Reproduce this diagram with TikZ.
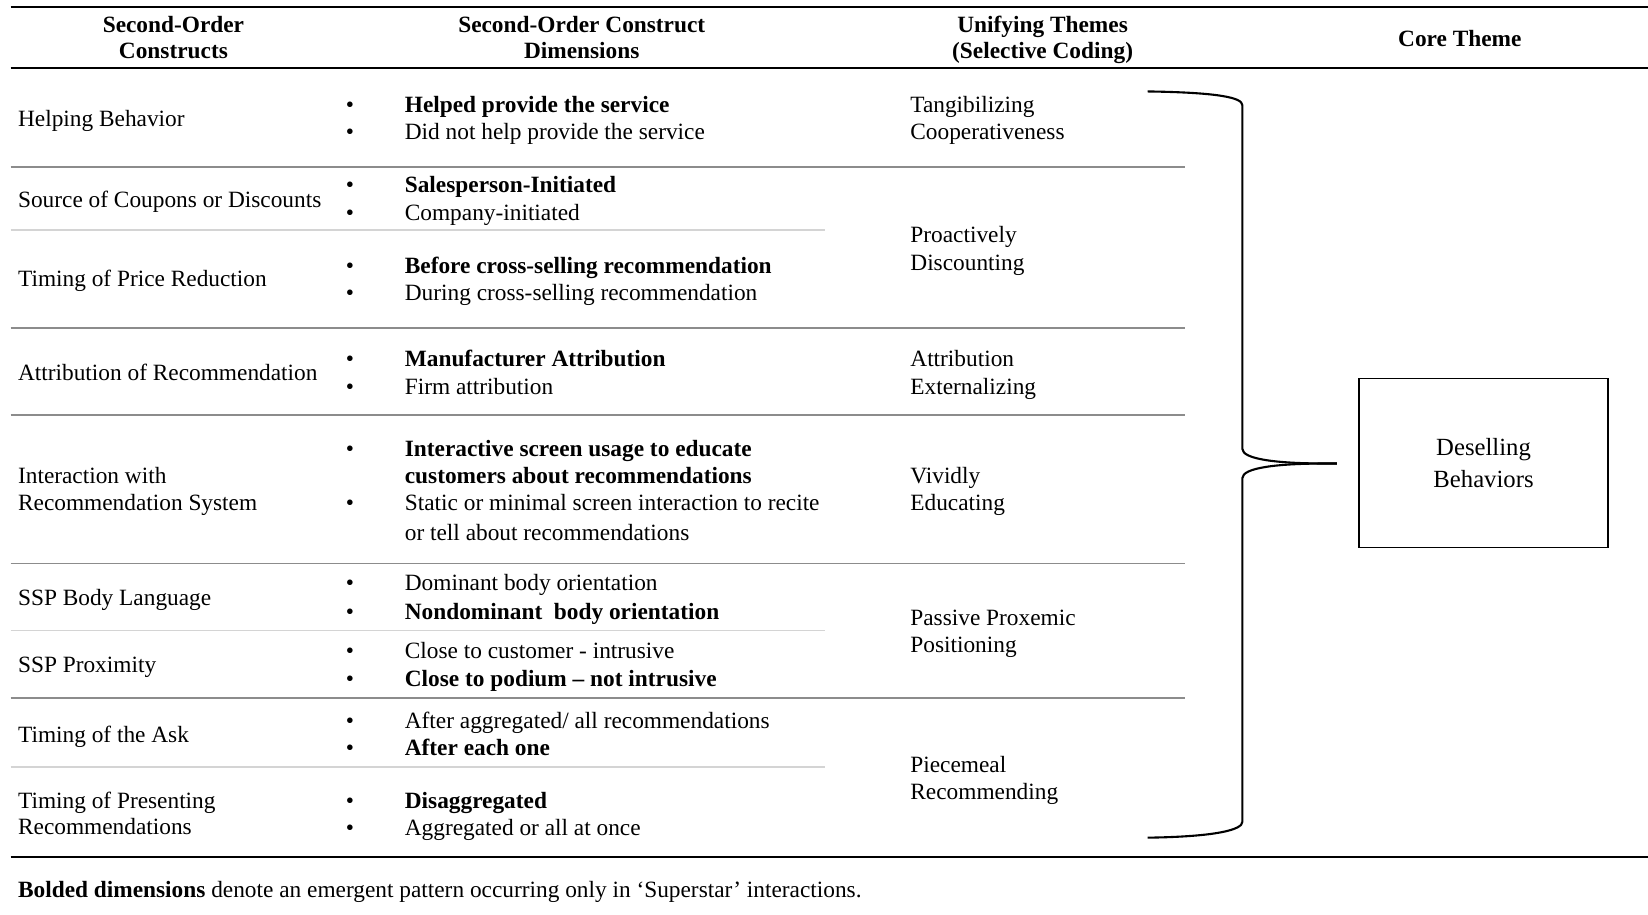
\documentclass[tikz,border=0pt]{standalone}
\usepackage{fontspec}
\setmainfont{Liberation Serif}
\begin{document}
\begin{tikzpicture}[x=1pt,y=-1pt,
  bodytxt/.style={anchor=base west,inner sep=0pt,font=\fontsize{22.2}{26.3}\selectfont},
  boldtxt/.style={bodytxt,font=\fontsize{22.2}{26.3}\selectfont\bfseries},
  hdrtxt/.style={anchor=base,inner sep=0pt,font=\fontsize{22.2}{26.3}\selectfont\bfseries},
  bullet/.style={anchor=base,inner sep=0pt,font=\fontsize{22.2}{26.3}\selectfont},
  blackrule/.style={line width=1.8pt,black},
  darkrule/.style={line width=1.6pt,black!45},
  lightrule/.style={line width=1.6pt,black!17},
  bracepath/.style={line width=2pt,black},
  corebox/.style={draw,line width=1.4pt,minimum width=237pt,minimum height=161pt,align=center,inner sep=0pt,font=\fontsize{23.5}{30}\selectfont}]
\newcommand\dimitem[4]{\node[bullet] (#1b) at (333,#2) {•};\node[#3] (#1) at (385,#2) {#4};}
\useasboundingbox (0,0) rectangle (1568,870);
% rules
\draw[blackrule] (10,7) -- (1568,7);
\draw[blackrule] (10,65) -- (1568,65);
\draw[blackrule] (10,815) -- (1568,815);
\draw[darkrule] (10,159) -- (1127,159);
\draw[lightrule] (10,219) -- (785,219);
\draw[darkrule] (10,312) -- (1127,312);
\draw[darkrule] (10,395) -- (1127,395);
\draw[darkrule] (10,536) -- (1127,536);
\draw[lightrule] (10,600) -- (785,600);
\draw[darkrule] (10,664) -- (1127,664);
\draw[lightrule] (10,730) -- (785,730);
% headers
\node[hdrtxt] (h1a) at (165,31) {Second-Order};
\node[hdrtxt] (h1b) at (165,56) {Constructs};
\node[hdrtxt] (h2a) at (553.5,31) {Second-Order Construct};
\node[hdrtxt] (h2b) at (553.5,56) {Dimensions};
\node[hdrtxt] (h3a) at (992,31) {Unifying Themes};
\node[hdrtxt] (h3b) at (992,56) {(Selective Coding)};
\node[hdrtxt] (h4) at (1389,44) {Core Theme};
% column 1
\node[bodytxt] (c1) at (17,120) {Helping Behavior};
\node[bodytxt] (c2) at (17,197) {Source of Coupons or Discounts};
\node[bodytxt] (c3) at (17,273) {Timing of Price Reduction};
\node[bodytxt] (c4) at (17,362) {Attribution of Recommendation};
\node[bodytxt] (c5a) at (17,460) {Interaction with};
\node[bodytxt] (c5b) at (17,486) {Recommendation System};
\node[bodytxt] (c6) at (17,576) {SSP Body Language};
\node[bodytxt] (c7) at (17,640) {SSP Proximity};
\node[bodytxt] (c8) at (17,706) {Timing of the Ask};
\node[bodytxt] (c9a) at (17,769) {Timing of Presenting};
\node[bodytxt] (c9b) at (17,794) {Recommendations};
% column 2
\dimitem{d1a}{107}{boldtxt}{Helped provide the service}
\dimitem{d1b}{133}{bodytxt}{Did not help provide the service}
\dimitem{d2a}{183}{boldtxt}{Salesperson-Initiated}
\dimitem{d2b}{210}{bodytxt}{Company-initiated}
\dimitem{d3a}{260}{boldtxt}{Before cross-selling recommendation}
\dimitem{d3b}{286}{bodytxt}{During cross-selling recommendation}
\dimitem{d4a}{349}{boldtxt}{Manufacturer Attribution}
\dimitem{d4b}{375}{bodytxt}{Firm attribution}
\dimitem{d5a}{434}{boldtxt}{Interactive screen usage to educate}
\node[boldtxt] (d5c) at (385,460) {customers about recommendations};
\dimitem{d5b}{486}{bodytxt}{Static or minimal screen interaction to recite}
\node[bodytxt] (d5d) at (385,514) {or tell about recommendations};
\dimitem{d6a}{562}{bodytxt}{Dominant body orientation}
\dimitem{d6b}{589}{boldtxt}{Nondominant\ \ body orientation}
\dimitem{d7a}{627}{bodytxt}{Close to customer - intrusive}
\dimitem{d7b}{653}{boldtxt}{Close to podium – not intrusive}
\dimitem{d8a}{693}{bodytxt}{After aggregated/ all recommendations}
\dimitem{d8b}{719}{boldtxt}{After each one}
\dimitem{d9a}{769}{boldtxt}{Disaggregated}
\dimitem{d9b}{795}{bodytxt}{Aggregated or all at once}
% column 3
\node[bodytxt] (t1a) at (866,107) {Tangibilizing};
\node[bodytxt] (t1b) at (866,133) {Cooperativeness};
\node[bodytxt] (t2a) at (866,231) {Proactively};
\node[bodytxt] (t2b) at (866,257) {Discounting};
\node[bodytxt] (t3a) at (866,349) {Attribution};
\node[bodytxt] (t3b) at (866,375) {Externalizing};
\node[bodytxt] (t4a) at (866,460) {Vividly};
\node[bodytxt] (t4b) at (866,486) {Educating};
\node[bodytxt] (t5a) at (866,595) {Passive Proxemic};
\node[bodytxt] (t5b) at (866,621) {Positioning};
\node[bodytxt] (t6a) at (866,735) {Piecemeal};
\node[bodytxt] (t6b) at (866,761) {Recommending};
% brace
\coordinate (btop) at (1092,87);
\coordinate (bbot) at (1092,797);
\coordinate (btip) at (1272,441);
\draw[bracepath] (btop) .. controls (1160,88) and (1182,93) .. (1182,100)
  -- (1182,427) .. controls (1182,437) and (1215,441) .. (1262,441) -- (btip);
\draw[bracepath] (btip) -- (1262,441) .. controls (1215,441) and (1182,445) .. (1182,455)
  -- (1182,782) .. controls (1182,789) and (1160,796) .. (bbot);
% core box
\node[corebox] (core) at (1411.5,440.5) {Deselling\\Behaviors};
% footer
\node[bodytxt] (foot) at (17,854) {{\bfseries Bolded dimensions} denote an emergent pattern occurring only in ‘Superstar’ interactions.};
\end{tikzpicture}
\end{document}
